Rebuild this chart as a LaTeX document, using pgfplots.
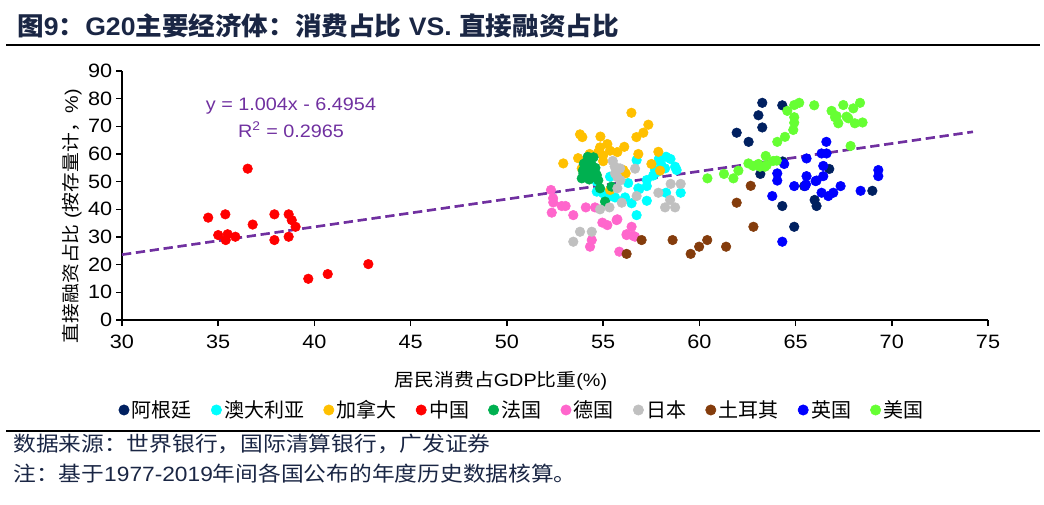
\documentclass[border=0pt]{standalone}
\usepackage{fontspec}
\setmainfont{Liberation Sans}
\newfontfamily\cjk{Noto Sans CJK SC}
\usepackage{pgfplots}
\pgfplotsset{compat=1.18}
\definecolor{cArg}{HTML}{002060}
\definecolor{cAus}{HTML}{00FFFF}
\definecolor{cCan}{HTML}{FFC000}
\definecolor{cChn}{HTML}{FF0000}
\definecolor{cFra}{HTML}{00B050}
\definecolor{cGer}{HTML}{FF66CC}
\definecolor{cJpn}{HTML}{C0C0C0}
\definecolor{cTur}{HTML}{843C0C}
\definecolor{cUK}{HTML}{0000FF}
\definecolor{cUS}{HTML}{66FF33}
\definecolor{trend}{HTML}{7030A0}
\definecolor{titlec}{HTML}{1A2644}
\begin{document}
\begin{tikzpicture}
\begin{scope}[x=0.75pt,y=-0.75pt,yshift=378pt]
\useasboundingbox (0,0) rectangle (1044,504);
\node[anchor=west,text=titlec,inner sep=0pt,xscale=1.05] at (17,26)
 {\fontsize{19}{22}\selectfont\bfseries{\cjk 图}9{\cjk ：}G20{\cjk 主要经济体：消费占比} VS. {\cjk 直接融资占比}};
\draw[line width=1.5pt] (6,45) -- (1040,45);
\draw[line width=1.5pt] (6,431) -- (1040,431);
\node[anchor=west,text=titlec,inner sep=0pt,xscale=1.1] at (13,444)
 {\fontsize{15.5}{18}\selectfont\cjk 数据来源：世界银行，国际清算银行，广发证券};
\node[anchor=west,text=titlec,inner sep=0pt,xscale=1.1] at (13,474)
 {\fontsize{15.5}{18}\selectfont{\cjk 注：基于}1977-2019{\cjk 年间各国公布的年度历史数据核算。}};
\node[text=trend,xscale=1.1] at (291,106) {\fontsize{13.5}{15}\selectfont y = 1.004x - 6.4954};
\node[text=trend,xscale=1.1] at (291,130) {\fontsize{13.5}{15}\selectfont R\textsuperscript{2} = 0.2965};
\end{scope}
\begin{axis}[
  scale only axis,
  width=649.5pt, height=186.75pt,
  at={(91.5pt,138pt)}, anchor=south west,
  xmin=30, xmax=75, ymin=0, ymax=90,
  xtick={30,35,...,75}, ytick={0,10,...,90},
  axis x line*=bottom, axis y line*=left,
  axis line style={black,line width=1.6pt,-},
  tick align=outside, major tick length=4.5pt,
  tick style={black,line width=1.2pt},
  /pgf/number format/assume math mode=true,
  tick label style={font=\fontsize{14.5}{16}\selectfont, xscale=1.12},
  xticklabel style={yshift=-3pt},
  yticklabel style={xshift=1pt},
  xlabel={{\cjk 居民消费占}GDP{\cjk 比重}(\%)},
  ylabel={{\cjk 直接融资占比} ({\cjk 按存量计，}\%)},
  x label style={at={(rel axis cs:0.4376,-0.245)},anchor=center,font=\fontsize{13.5}{15}\selectfont,xscale=1.1},
  y label style={at={(rel axis cs:-0.0577,0.4177)},anchor=center,rotate=0,font=\fontsize{13.5}{15}\selectfont,xscale=1.1},
  legend columns=10,
  legend style={at={(rel axis cs:-0.004,-0.3614)},anchor=west,draw=none,fill=none,inner sep=0pt,
    font=\cjk\fontsize{15}{17}\selectfont,
    /tikz/every even column/.append style={column sep=12.5pt}},
  legend image code/.code={\path (0pt,0pt) rectangle (6pt,0pt); \draw[#1,mark size=3.9pt] plot coordinates {(3pt,0pt)};},
  clip=false,
]
\addplot[only marks,mark=*,mark size=3.6pt,color=cArg] coordinates {
(63.27,78.5) (64.31,77.6) (63.07,74.0) (63.27,69.6) (61.94,67.7) (62.56,64.4) (63.17,52.8)
(64.31,41.2) (64.93,33.7) (66.75,54.6) (65.99,43.4) (66.09,41.2) (65.45,48.4) (68.99,46.7) (64.33,57.3)};
\addlegendentry{阿根廷}
\addplot[only marks,mark=*,mark size=3.6pt,color=cAus] coordinates {
(56.74,57.8) (58.27,59.0) (58.5,58.2) (58.74,55.4) (57.70,54.2) (58.22,54.8) (57.27,50.6) (56.83,47.6)
(57.27,48.4) (58.27,46.0) (59.03,46.0) (54.67,46.4) (55.0,45.8) (55.62,44.3) (56.14,44.3) (56.48,42.2)
(57.27,43.1) (56.74,37.9) (55.36,51.8) (54.67,50.0) (58.0,56.5) (57.9,58.3) (55.27,44.6) (56.88,47.3)
(57.85,53.6) (58.82,54.2) (56.3,49.5) (57.6,52.2)};
\addlegendentry{澳大利亚}
\addplot[only marks,mark=*,mark size=3.6pt,color=cCan] coordinates {
(56.47,74.9) (57.35,70.6) (57.09,67.7) (56.73,66.1) (53.80,67.1) (53.92,66.1) (54.86,66.3) (54.84,62.4)
(55.22,63.6) (56.10,62.6) (54.73,60.5) (55.74,60.7) (55.36,61.2) (56.83,60.0) (57.87,60.8) (52.93,56.6)
(55.0,57.4) (57.51,56.4) (57.96,54.0) (56.05,54.2) (56.17,53.0) (55.36,47.0) (53.89,54.8) (54.3,60.0)
(55.0,59.5) (53.7,58.5)};
\addlegendentry{加拿大}
\addplot[only marks,mark=*,mark size=3.6pt,color=cChn] coordinates {
(34.48,37.0) (35.0,30.7) (35.37,38.2) (35.39,28.9) (35.49,31.0) (35.89,30.1) (36.53,54.7) (36.79,34.5)
(37.92,38.2) (37.92,28.9) (38.66,38.2) (38.82,36.1) (39.02,33.7) (38.66,30.1) (39.68,14.9) (40.69,16.6)
(42.80,20.2)};
\addlegendentry{中国}
\addplot[only marks,mark=*,mark size=3.6pt,color=cFra] coordinates {
(54.32,58.4) (54.14,57.2) (54.06,55.4) (54.23,54.2) (54.49,53.6) (53.89,51.2) (54.28,50.8) (54.67,52.4)
(54.84,47.6) (55.1,42.8) (55.44,48.2) (53.98,53.0) (54.41,56.0) (54.5,58.8) (54.0,56.5) (54.6,55.0)
(54.1,52.0) (54.4,51.5) (54.75,50.5) (54.2,59.0) (53.95,54.0) (54.55,54.0)};
\addlegendentry{法国}
\addplot[only marks,mark=*,mark size=3.6pt,color=cGer] coordinates {
(52.29,47.0) (52.41,42.5) (52.33,38.8) (52.85,41.2) (53.05,41.2) (53.45,37.9) (54.1,40.7) (54.58,40.7)
(54.96,35.2) (55.22,34.3) (55.74,36.4) (56.48,33.7) (56.22,31.0) (56.57,30.4) (54.41,28.9) (54.32,26.5)
(55.84,24.7) (55.70,36.1) (56.66,30.1) (56.22,30.7) (52.4,44.0)};
\addlegendentry{德国}
\addplot[only marks,mark=*,mark size=3.6pt,color=cJpn] coordinates {
(55.50,57.5) (55.88,54.8) (55.62,53.0) (55.74,51.6) (56.66,54.7) (55.74,47.6) (55.97,42.4) (56.74,44.8)
(57.87,46.0) (58.51,49.2) (59.03,49.2) (58.48,43.4) (58.22,40.7) (58.74,40.7) (54.84,40.0) (55.33,40.7)
(53.80,31.9) (54.41,31.9) (53.45,28.3) (55.9,50.5) (55.6,55.5)};
\addlegendentry{日本}
\addplot[only marks,mark=*,mark size=3.6pt,color=cTur] coordinates {
(56.22,23.9) (57.0,28.9) (58.61,28.9) (59.55,23.9) (59.99,26.5) (60.41,28.9) (61.39,26.5) (62.81,33.7)
(61.94,42.4) (62.67,48.5)};
\addlegendentry{土耳其}
\addplot[only marks,mark=*,mark size=3.6pt,color=cUK] coordinates {
(66.60,64.4) (66.35,60.2) (66.61,60.2) (65.57,58.4) (64.41,56.4) (66.44,55.7) (64.05,53.0) (64.05,50.4)
(65.57,52.0) (66.44,52.0) (66.09,50.4) (64.93,48.4) (67.34,48.4) (66.35,46.0) (66.70,44.8) (66.96,46.0)
(63.79,44.8) (68.38,46.7) (64.31,28.3) (69.30,54.2) (69.30,52.0) (65.49,48.4) (66.04,50.2) (65.54,49.0)};
\addlegendentry{英国}
\addplot[only marks,mark=*,mark size=3.6pt,color=cUS] coordinates {
(60.42,51.2) (61.28,52.8) (61.77,51.2) (62.03,54.0) (62.55,56.6) (63.07,56.4) (63.45,59.3) (64.02,57.6)
(64.05,64.4) (64.45,66.2) (64.88,68.7) (64.93,71.3) (64.93,73.3) (64.57,75.6) (64.93,77.7) (65.19,78.5)
(65.97,77.6) (66.87,75.6) (67.48,77.7) (67.05,73.3) (67.22,71.1) (67.74,72.9) (68.0,76.5) (68.35,78.5)
(68.08,71.1) (68.48,71.4) (67.86,62.9) (62.8,55.7) (63.15,55.4) (63.5,56.0) (63.84,57.5) (63.41,55.4)
(67.65,73.5) (67.13,73.7)};
\addlegendentry{美国}
\addplot[trend,line width=2pt,dash pattern=on 7pt off 3.5pt,forget plot] coordinates {(30,23.625) (74.22,68.02)};
\end{axis}
\end{tikzpicture}
\end{document}
